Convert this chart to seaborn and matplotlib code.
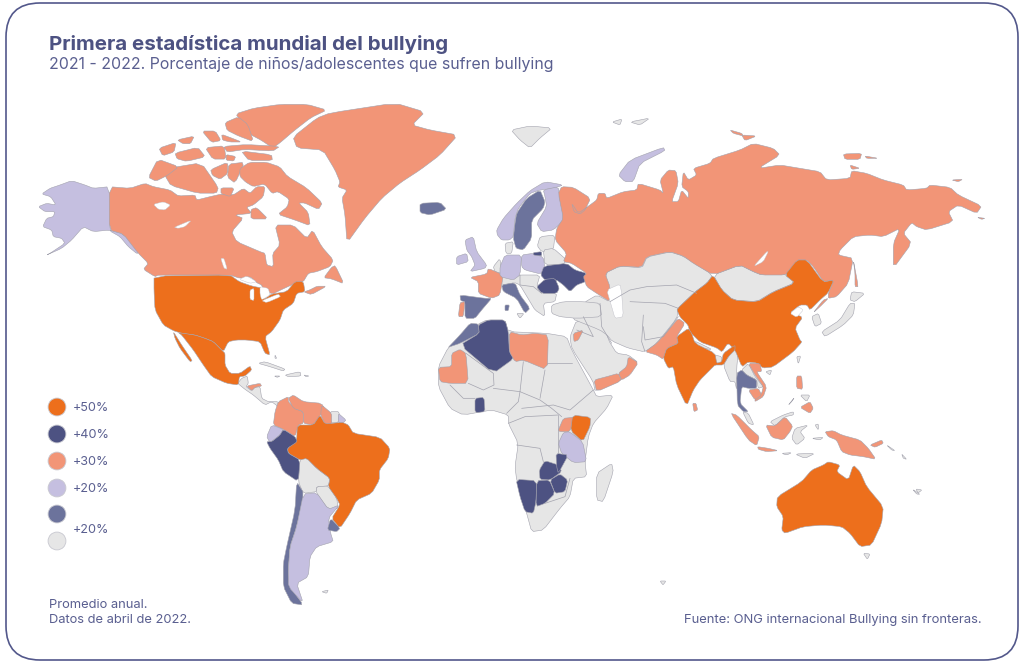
"""
World map of bullying rates, outlines traced from the picture.
Usage: python plot.py
"""
import matplotlib
matplotlib.use("Agg")
import matplotlib.pyplot as plt
import matplotlib.patches as mpatches
import pandas as pd
import seaborn as sns

# crop frames the outlines were read in: left, top, scale
PX = (0, 0, 1)
C1 = (30, 90, 3)
C2 = (140, 270, 3)
C3 = (420, 170, 3)
C4 = (430, 320, 3)
C5 = (550, 130, 3)
C6 = (620, 300, 3)

COLORS = {
    "orange": "#ed6f1c", "navy": "#4d5282", "salmon": "#f29577",
    "lilac": "#c5bfe0", "slate": "#6c739c", "gray": "#e6e6e6",
}

LEGEND_LABELS = ["+50%", "+40%", "+30%", "+20%", "", ""]
LEGEND_KEYS = ["orange", "navy", "salmon", "lilac", "slate", "gray"]

ALASKA = [(238,290),(190,295),(165,285),(125,272),(90,285),(60,295),(35,312),(62,320),(78,345),(50,340),(25,350),(45,365),(75,365),(70,380),(50,385),(38,410),(65,420),(70,440),(95,445),(105,460),(60,490),(50,495),(95,475),(125,450),(160,410),(190,425),(238,420),(280,432),(325,480),(322,492),(295,470),(270,440),(238,422)]
CANADA = [(238,290),(300,295),(345,280),(370,290),(420,300),(445,318),(495,315),(500,330),(540,320),(575,312),(610,315),(640,295),(660,310),(680,290),(705,290),(700,320),(670,345),(650,352),(665,370),(615,375),(640,385),(605,425),(620,455),(690,485),(705,490),(710,525),(730,530),(728,490),(750,465),(735,405),(790,405),(830,445),(848,420),(875,470),(910,510),(900,530),(860,545),(835,550),(820,575),(800,578),(752,600),(728,612),(700,600),(695,585),(680,578),(660,560),(630,565),(600,555),(385,555),(375,560),(340,538),(355,520),(325,490),(280,432),(238,420)]
CANADA_ISLANDS = [
    [(632,75),(680,60),(750,50),(820,50),(872,65),(830,85),(785,120),(750,150),(730,165),(700,145),(672,130),(650,100)],
    [(590,100),(625,85),(650,105),(665,150),(625,135),(595,120)],
    [(520,125),(555,125),(570,150),(545,155)],
    [(578,135),(605,145),(630,155),(600,155),(580,150)],
    [(590,170),(650,165),(738,170),(720,182),(645,178),(600,185)],
    [(640,185),(720,195),(722,210),(660,210)],
    [(390,175),(435,160),(430,185),(400,195)],
    [(445,150),(490,140),(480,160),(460,160)],
    [(440,190),(500,175),(520,200),(470,212),(445,205)],
    [(530,175),(580,170),(585,205),(550,205)],
    [(590,195),(615,200),(610,212),(590,210)],
    [(420,240),(510,225),(555,290),(550,305),(500,305),(430,285),(415,260)],
    [(360,260),(385,212),(440,232),(410,255),(380,270)],
    [(545,240),(590,220),(590,250),(570,265),(550,255)],
    [(598,225),(640,220),(615,275),(595,260)],
    [(645,245),(670,228),(715,228),(750,240),(770,265),(820,295),(862,335),(852,352),(815,335),(800,335),(825,360),(830,395),(790,380),(745,365),(770,345),(775,325),(745,305),(730,310),(710,285),(680,292),(660,280),(645,265)],
    [(575,295),(610,295),(600,318),(575,310)],
    [(680,355),(710,385),(665,385),(665,360)],
    [(825,605),(845,612),(885,590),(860,590),(840,600)],
    [(885,562),(905,535),(915,530),(938,578),(905,565)],
]
GREENLAND = [(293,137),(317,118),(330,113),(395,103),(425,112),(412,125),(430,130),(458,135),(440,155),(420,170),(400,183),(382,198),(365,218),(347,243),(345,215),(342,198),(347,190),(338,187),(340,182),(335,170),(323,150),(297,148)]
ICELAND = [(0,100),(60,97),(80,118),(30,135),(0,128)]

USA = [(42,18),(270,15),(298,35),(335,48),(370,55),(372,88),(395,72),(440,65),(465,35),(490,35),(495,65),(470,70),(460,100),(430,120),(420,150),(395,185),(375,200),(390,255),(375,250),(360,215),(320,210),(290,210),(265,215),(250,245),(220,215),(195,205),(165,195),(125,190),(100,182),(70,165),(45,120),(42,60)]
MEXICO = [(115,188),(165,195),(195,205),(220,215),(250,245),(255,250),(255,285),(270,310),(300,310),(330,288),(335,300),(315,318),(298,320),(295,345),(260,340),(215,320),(190,285),(160,240),(125,195)]
BAJA = [(100,185),(125,225),(157,272),(150,275),(120,235),(105,205)]
CARIBBEAN = [
    [(355,280),(375,275),(435,297),(430,303),(390,290)],
    [(435,315),(480,305),(483,318),(445,320)],
    [(403,318),(420,318),(412,322)],
    [(492,315),(507,318),(498,320)],
    [(405,255),(410,265),(405,265)],
]
CENTRAL_AMERICA = [(293,340),(305,325),(322,318),(325,340),(318,350),(335,362),(345,352),(360,350),(365,385),(385,395),(415,395),(415,410),(395,395),(375,405),(340,375),(315,358)]
NICARAGUA = [(320,348),(360,340),(365,348),(345,352),(335,362)]
COLOMBIA = [(445,380),(415,395),(405,425),(400,465),(430,478),(465,500),(475,465),(490,460),(490,425),(465,415),(445,395)]
VENEZUELA = [(445,385),(460,375),(490,395),(545,400),(560,430),(545,430),(520,465),(490,460),(490,425),(460,415)]
GUYANA = [(545,405),(575,430),(575,462),(555,462),(542,435)]
SURINAME = [(570,425),(598,425),(595,458),(572,458)]
FR_GUIANA = [(595,430),(618,450),(610,458),(595,458)]
BRAZIL = [(472,465),(520,465),(540,435),(555,462),(595,458),(610,458),(625,465),(640,490),(720,502),(750,535),(745,565),(718,600),(718,630),(695,670),(650,690),(630,730),(600,775),(575,745),(600,705),(590,685),(565,650),(570,625),(530,595),(500,565),(480,570),(445,550),(442,535),(470,510)]
ECUADOR = [(395,465),(430,478),(420,495),(390,518),(380,500)]
PERU = [(430,478),(465,500),(472,515),(442,535),(445,550),(480,570),(475,635),(430,605),(415,570),(390,535),(380,515),(395,515),(420,495)]
BOLIVIA = [(480,568),(500,562),(530,595),(570,625),(565,648),(530,650),(530,665),(490,670),(475,635)]
PARAGUAY = [(530,650),(565,648),(590,685),(595,715),(565,718),(530,670)]
CHILE = [(470,635),(492,670),(470,770),(450,830),(445,900),(450,950),(490,1005),(455,1000),(430,950),(430,880),(440,830),(465,720)]
ARGENTINA = [(490,672),(530,668),(565,718),(598,705),(565,745),(572,790),(580,815),(530,830),(510,860),(505,920),(470,940),(490,1000),(445,950),(445,900),(450,830),(470,770)]
URUGUAY = [(572,745),(600,775),(590,785),(562,780)]
FALKLAND = [(545,965),(565,960),(560,970)]

NORWAY = [(230,180),(250,145),(290,100),(330,62),(375,35),(430,45),(400,55),(360,60),(330,70),(295,115),(285,145),(280,200),(268,210),(245,210),(232,195)]
SWEDEN = [(290,130),(320,85),(360,60),(375,95),(370,115),(335,150),(335,205),(310,240),(288,235),(280,205),(285,160)]
FINLAND = [(370,60),(415,50),(420,90),(432,150),(400,180),(365,185),(350,160),(380,110),(375,80)]
UK = [(135,210),(160,200),(170,245),(200,285),(195,295),(150,305),(165,285),(155,260),(140,240)]
IRELAND = [(110,260),(140,250),(145,275),(110,285)]
FRANCE = [(205,295),(250,315),(240,375),(215,385),(175,370),(175,335),(150,322),(200,312)]
SPAIN = [(120,375),(195,385),(215,385),(185,420),(165,445),(135,445),(135,395),(122,392)]
PORTUGAL = [(120,398),(135,395),(130,440),(115,440)]
ITALY = [(245,345),(285,338),(300,375),(330,415),(315,430),(290,385),(250,365)]
SARDINIA = [(255,405),(268,405),(265,422),(255,422)]
SICILY = [(290,430),(312,430),(300,445)]
GERMANY = [(255,255),(305,255),(300,315),(280,330),(240,320),(240,290)]
POLAND = [(305,255),(340,250),(370,262),(375,295),(362,312),(315,300),(305,290)]
DENMARK = [(255,220),(280,215),(275,250),(258,250)]
KALININGRAD = [(340,248),(365,245),(365,258),(340,255)]
BALTICS = [(360,200),(405,195),(400,240),(365,245),(352,228)]
BELARUS = [(370,240),(400,235),(440,270),(430,283),(375,285)]
BENELUX = [(220,290),(240,265),(245,310),(225,305)]
UKRAINE = [(372,288),(440,280),(465,300),(500,310),(497,335),(470,345),(450,365),(430,345),(410,330),(375,330),(362,315)]
ROMANIA = [(350,350),(375,328),(405,325),(418,355),(410,370),(365,370)]
BALKANS = [(240,320),(300,315),(360,315),(350,350),(365,370),(410,370),(405,395),(370,400),(375,440),(345,420),(330,395),(300,345),(285,338),(245,345)]
TURKEY = [(395,405),(430,395),(490,395),(540,400),(545,440),(470,445),(420,440),(395,430)]

RUSSIA = [(40,265),(25,190),(35,170),(70,172),(122,205),(105,240),(90,252),(72,245),(65,220),(85,250),(120,225),(140,210),(145,190),(165,190),(170,205),(220,185),(260,180),(265,160),(330,180),(340,190),(330,150),(355,120),(378,122),(385,160),(365,215),(385,215),(395,180),(415,205),(415,185),(395,170),(400,125),(415,150),(440,135),(430,115),(480,100),(490,85),(570,60),(610,40),(670,55),(690,75),(625,115),(690,105),(750,115),(810,125),(830,150),(900,145),(905,122),(950,130),(1000,150),(1060,165),(1070,180),(1130,175),(1140,165),(1200,172),(1225,195),(1295,228),(1280,250),(1225,225),(1195,245),(1210,275),(1130,300),(1100,290),(1085,278),(1060,310),(1085,340),(1030,415),(1030,340),(1050,295),(1000,320),(960,315),(910,320),(870,360),(865,375),(910,385),(895,460),(860,500),(835,505),(835,490),(852,450),(820,455),(790,410),(770,390),(740,390),(735,420),(705,435),(635,435),(610,425),(570,405),(490,435),(430,400),(400,378),(360,365),(290,380),(275,412),(210,408),(165,430),(180,470),(180,515),(140,490),(110,470),(100,440),(110,430),(65,400),(40,395),(50,370),(15,330),(20,295)]
NOVAYA = [(205,135),(240,90),(340,52),(345,62),(270,100),(250,155),(225,155)]
SAKHALIN = [(910,390),(925,470),(915,470),(915,430)]
RUSSIA_ISLANDS = [
    [(540,0),(575,10),(580,18),(550,10)],
    [(575,15),(620,18),(585,32)],
    [(880,72),(935,70),(930,88),(885,88)],
    [(945,78),(985,85),(950,85)],
    [(900,105),(930,115),(905,118)],
    [(1205,150),(1238,148),(1225,155)],
    [(1282,262),(1305,265),(1295,268)],
]
SVALBARD = [(511,130),(530,126),(552,128),(540,138),(530,148),(520,140)]
ARCTIC_GRAY = [
    [(612,122),(622,119),(620,125)],
    [(630,122),(650,118),(640,125)],
    [(660,581),(666,581),(663,585)],
    [(916,489),(922,490),(918,493)],
]
MONGOLIA = [(490,435),(570,405),(610,425),(635,435),(700,430),(735,458),(670,485),(620,515),(550,510),(515,480)]
CHINA = [(713,275),(722,290),(733,300),(757,302),(773,292),(795,283),(785,275),(797,260),(807,260),(823,282),(834,280),(828,293),(820,300),(810,310),(807,305),(800,305),(790,313),(803,317),(795,328),(800,340),(802,342),(793,352),(773,367),(763,368),(757,363),(748,362),(742,367),(735,350),(728,343),(722,352),(717,348),(700,342),(690,332),(688,325),(680,317),(677,310),(678,308),(695,292),(707,283)]
N_KOREA = [(790,548),(820,510),(835,505),(810,530)]
S_KOREA = [(785,560),(805,550),(815,580),(795,590)]
HONSHU = [(815,605),(870,570),(900,520),(915,520),(910,555),(880,585),(825,620)]
HOKKAIDO = [(905,485),(945,490),(915,515),(900,510)]

CENTRAL_ASIA = [(605,273),(620,266),(642,268),(647,257),(670,252),(683,256),(713,275),(707,283),(695,292),(678,308),(677,318),(657,343),(645,352),(628,348),(612,341),(607,335),(600,330),(570,318),(585,302),(597,295),(610,302)]
ARABIA = [(420,50),(440,0),(520,0),(535,60),(560,100),(595,105),(625,128),(575,180),(495,215),(490,185),(425,85)]
JORDAN = [(430,40),(460,30),(445,60),(432,65)]
OMAN = [(595,110),(625,128),(600,165),(575,180),(565,160),(590,140)]
YEMEN = [(492,180),(530,170),(565,160),(575,182),(500,215)]

AFRICA = [(25,140),(55,82),(85,60),(145,12),(170,0),(225,0),(235,35),(350,40),(410,50),(425,90),(490,210),(500,230),(550,225),(530,265),(490,310),(475,350),(465,425),(470,470),(430,475),(420,530),(390,565),(340,630),(305,635),(290,580),(260,480),(255,440),(265,370),(235,310),(235,285),(185,270),(100,285),(60,265),(25,200)]
MADAGASCAR = [(500,460),(545,430),(550,455),(520,545),(500,540)]
MOROCCO = [(55,82),(90,45),(120,10),(145,12),(148,40),(90,70),(60,80)]
ALGERIA = [(145,15),(175,0),(225,0),(235,35),(238,95),(252,115),(190,160),(90,75),(148,40)]
LIBYA = [(238,35),(275,45),(315,40),(355,45),(352,150),(280,120),(255,125),(238,95)]
MAURITANIA = [(65,100),(90,88),(108,100),(115,190),(60,190),(30,185),(25,142),(65,140)]
GHANA = [(135,235),(162,232),(165,275),(135,278)]
UGANDA = [(400,295),(430,292),(420,335),(390,335),(385,330)]
KENYA = [(428,285),(482,292),(480,320),(458,365),(422,332)]
TANZANIA = [(400,338),(418,335),(458,365),(470,425),(430,428),(395,400),(385,370)]
ZAMBIA = [(328,450),(345,422),(385,435),(395,455),(360,480),(330,478)]
MALAWI = [(378,400),(415,405),(385,460),(380,440)]
ZIMBABWE = [(360,480),(390,462),(413,480),(405,515),(375,520)]
NAMIBIA = [(258,478),(320,482),(318,545),(310,580),(285,575),(270,530)]
BOTSWANA = [(320,482),(358,480),(375,520),(345,550),(318,560)]

INDIA = [(140,145),(175,130),(170,110),(205,85),(215,100),(225,130),(285,160),(290,190),(305,185),(310,160),(345,135),(345,150),(325,170),(310,195),(285,195),(275,205),(240,240),(220,270),(200,318),(170,255),(160,200),(145,205),(130,175)]
NEPAL = [(222,122),(280,150),(225,140)]
BANGLADESH = [(285,165),(305,170),(305,195),(290,190)]
PAKISTAN = [(75,155),(110,130),(145,90),(175,55),(195,70),(170,110),(175,130),(140,145),(130,178),(110,165)]
MYANMAR = [(310,195),(325,170),(345,140),(355,150),(350,205),(350,270),(345,245),(330,245)]
THAILAND = [(350,220),(365,210),(380,225),(410,240),(410,265),(385,265),(365,260),(360,310),(385,335),(370,335),(352,315)]
LAOS = [(365,210),(385,190),(405,230),(430,260),(415,265),(410,240),(380,225)]
VIETNAM = [(385,190),(420,190),(425,215),(410,215),(440,260),(430,290),(405,305),(405,295),(425,280),(430,260),(405,225)]
CAMBODIA = [(385,270),(415,265),(425,285),(405,300)]
MALAYA = [(368,335),(385,340),(402,375),(385,370)]
SUMATRA = [(332,340),(350,345),(395,390),(418,410),(410,437),(385,420)]
JAVA = [(413,440),(445,445),(475,452),(440,455),(415,448)]
BORNEO = [(437,375),(465,378),(495,350),(518,378),(510,395),(490,420),(455,412)]
SABAH = [(450,365),(490,345),(520,335),(520,345),(495,350),(465,378)]
SULAWESI = [(525,385),(565,375),(540,395),(555,415),(530,435),(515,415)]
LUZON = [(530,228),(545,228),(548,268),(530,265)]
MINDANAO = [(540,322),(570,305),(580,325),(570,340)]
SEA_GRAY = [
    [(540,285),(570,285),(560,305)],
    [(505,315),(523,293),(515,305)],
    [(530,170),(542,168),(535,192)],
    [(437,215),(455,210),(450,225)],
    [(485,460),(515,458),(500,465)],
    [(525,462),(585,460),(555,475)],
    [(575,415),(610,412),(600,420)],
    [(585,375),(595,372),(595,390)],
    [(800,435),(825,452),(815,450)],
    [(845,462),(860,478),(850,475)],
    [(878,568),(900,583),(890,582)],
    [(730,760),(750,762),(742,778)],
]
SRI_LANKA = [(218,310),(228,310),(233,330),(222,335)]
NEW_GUINEA = [(615,395),(640,392),(665,405),(720,420),(745,445),(768,478),(730,470),(690,465),(665,455),(650,420),(625,410)]
NEW_BRITAIN = [(750,435),(785,420),(790,430),(765,442)]
AUSTRALIA = [(472,590),(545,545),(575,510),(610,495),(625,485),(660,495),(650,515),(685,540),(700,495),(720,515),(740,560),(790,620),(785,670),(755,735),(720,740),(690,700),(665,680),(610,675),(550,680),(495,700),(485,690),(490,650),(470,620)]

# painted in this order, gray land underneath
REGIONS = [
    ("gray", C4, AFRICA), ("gray", C4, MADAGASCAR), ("gray", C4, ARABIA), ("gray", PX, CENTRAL_ASIA),
    ("gray", C3, TURKEY), ("gray", C3, BALKANS), ("gray", C3, SICILY), ("gray", C3, DENMARK),
    ("gray", C3, BALTICS), ("gray", C3, BELARUS), ("gray", C3, BENELUX), ("gray", C5, MONGOLIA),
    ("gray", C5, S_KOREA), ("gray", C5, HONSHU), ("gray", C5, HOKKAIDO), ("gray", PX, SVALBARD),
    ("gray", C2, CENTRAL_AMERICA), ("gray", C2, SURINAME), ("gray", C2, BOLIVIA), ("gray", C2, PARAGUAY),
    ("gray", C2, FALKLAND), ("gray", C6, MYANMAR), ("gray", C6, LAOS), ("gray", C6, MALAYA),
    ("gray", C6, SABAH), ("gray", C6, SULAWESI), ("gray", C6, NEPAL), ("gray", C6, BANGLADESH),
    ("lilac", C1, ALASKA), ("salmon", C1, CANADA), ("salmon", PX, GREENLAND), ("slate", C3, ICELAND),
    ("orange", C2, USA), ("orange", C2, MEXICO), ("orange", C2, BAJA), ("salmon", C2, NICARAGUA),
    ("salmon", C2, COLOMBIA), ("salmon", C2, VENEZUELA), ("salmon", C2, GUYANA), ("lilac", C2, FR_GUIANA),
    ("orange", C2, BRAZIL), ("lilac", C2, ECUADOR), ("navy", C2, PERU), ("slate", C2, CHILE),
    ("lilac", C2, ARGENTINA), ("slate", C2, URUGUAY),
    ("lilac", C3, NORWAY), ("slate", C3, SWEDEN), ("lilac", C3, FINLAND), ("lilac", C3, UK),
    ("lilac", C3, IRELAND), ("salmon", C3, FRANCE), ("slate", C3, SPAIN), ("salmon", C3, PORTUGAL),
    ("slate", C3, ITALY), ("slate", C3, SARDINIA), ("lilac", C3, GERMANY), ("lilac", C3, POLAND),
    ("navy", C3, KALININGRAD), ("navy", C3, UKRAINE), ("navy", C3, ROMANIA),
    ("salmon", C5, RUSSIA), ("lilac", C5, NOVAYA), ("salmon", C5, SAKHALIN), ("orange", PX, CHINA),
    ("salmon", C5, N_KOREA), ("salmon", C4, JORDAN), ("salmon", C4, OMAN), ("salmon", C4, YEMEN),
    ("slate", C4, MOROCCO), ("navy", C4, ALGERIA), ("salmon", C4, LIBYA), ("salmon", C4, MAURITANIA),
    ("navy", C4, GHANA), ("salmon", C4, UGANDA), ("orange", C4, KENYA), ("lilac", C4, TANZANIA),
    ("navy", C4, ZAMBIA), ("navy", C4, MALAWI), ("navy", C4, ZIMBABWE), ("navy", C4, NAMIBIA),
    ("navy", C4, BOTSWANA),
    ("salmon", C6, PAKISTAN), ("orange", C6, INDIA), ("slate", C6, THAILAND), ("salmon", C6, VIETNAM),
    ("salmon", C6, CAMBODIA), ("salmon", C6, SUMATRA), ("salmon", C6, JAVA), ("salmon", C6, BORNEO),
    ("salmon", C6, LUZON), ("salmon", C6, MINDANAO), ("salmon", C6, SRI_LANKA), ("salmon", C6, NEW_GUINEA),
    ("salmon", C6, NEW_BRITAIN), ("orange", C6, AUSTRALIA),
]
REGIONS += [("gray", C2, p) for p in CARIBBEAN]
REGIONS += [("salmon", C5, p) for p in RUSSIA_ISLANDS]
REGIONS += [("gray", PX, p) for p in ARCTIC_GRAY]
REGIONS += [("gray", C6, p) for p in SEA_GRAY]

# water cut out of the land
LAKES = [
    (C1, [(628,568),(650,558),(680,575),(660,580)]),
    (C1, [(660,600),(672,595),(672,632),(660,628)]),
    (C1, [(690,590),(715,595),(720,615),(695,630),(690,612)]),
    (C1, [(695,632),(745,612),(752,620),(710,638)]),
    (C1, [(370,343),(400,335),(422,345),(405,360),(385,358)]),
    (C1, [(432,412),(485,390),(465,410),(445,415)]),
    (C1, [(572,505),(582,505),(592,538),(582,535)]),
    (C5, [(170,480),(210,462),(215,490),(220,560),(195,565),(185,530)]),
    (C5, [(610,410),(650,365),(655,365),(640,395)]),
    (C5, [(720,550),(745,530),(760,540),(740,562)]),
]

# inner borders of the gray land
BORDERS = [
    (C4, [(108,100),(190,160),(192,195),(160,210),(115,190)]),
    (C4, [(280,125),(270,215),(330,240),(365,265),(395,290)]),
    (C4, [(345,150),(330,235)]),
    (C4, [(352,130),(425,130)]),
    (C4, [(190,205),(270,215),(265,245),(230,280)]),
    (C4, [(275,265),(370,255),(420,270),(490,210)]),
    (C4, [(235,310),(285,290),(385,285)]),
    (C4, [(260,375),(330,385),(340,425)]),
    (C4, [(385,285),(385,400)]),
    (C4, [(60,195),(100,235),(135,235)]),
    (C4, [(345,550),(405,530),(420,475)]),
    (C5, [(180,515),(240,480),(290,470),(380,465),(440,490)]),
    (C5, [(240,515),(345,520),(385,535)]),
    (C5, [(280,590),(285,630),(340,620),(385,560)]),
    (C6, [(70,45),(65,125),(75,155)]),
    (C3, [(540,400),(545,470),(575,520)]),
    (C3, [(490,440),(520,500),(470,480)]),
    (C3, [(300,315),(300,345),(340,350),(365,370)]),
]


def to_px(frame, pts):
    left, top, k = frame
    return [(left + x / k, top + y / k) for x, y in pts]


def soften(pts, q=0.15):
    # one pass of corner cutting so the traced outlines lose their hard angles
    out = []
    for (x0, y0), (x1, y1) in zip(pts, pts[1:] + pts[:1]):
        out.append((x0 + q * (x1 - x0), y0 + q * (y1 - y0)))
        out.append((x1 - q * (x1 - x0), y1 - q * (y1 - y0)))
    return out


def grow(pts, factor=1.14):
    cx = sum(p[0] for p in pts) / len(pts)
    cy = sum(p[1] for p in pts) / len(pts)
    return [(cx + factor * (x - cx), cy + factor * (y - cy)) for x, y in pts]


REGIONS += [("salmon", C1, grow(p)) for p in CANADA_ISLANDS]

sns.set_theme(style="white")
plt.rcParams["font.family"] = ["Inter", "DejaVu Sans"]

fig, ax = plt.subplots(figsize=(10.24, 6.64), dpi=100)
fig.subplots_adjust(0, 0, 1, 1)
ax.set_xlim(0, 1024)
ax.set_ylim(664, 0)
ax.axis("off")

ax.add_patch(mpatches.FancyBboxPatch((6, 3), 1012, 657,
             boxstyle="round,pad=0,rounding_size=34",
             facecolor="white", edgecolor="#53588b", linewidth=1.2, zorder=1))

for key, frame, pts in REGIONS:
    xs, ys = zip(*soften(to_px(frame, pts)))
    ax.fill(xs, ys, facecolor=COLORS[key], edgecolor="#a3a3ae", linewidth=0.4, zorder=2)
for frame, pts in LAKES:
    xs, ys = zip(*soften(to_px(frame, pts)))
    ax.fill(xs, ys, facecolor="white", edgecolor="#c0c0c8", linewidth=0.3, zorder=3)
for frame, pts in BORDERS:
    xs, ys = zip(*to_px(frame, pts))
    ax.plot(xs, ys, color="#a3a3ae", linewidth=0.5, zorder=3)

legend_df = pd.DataFrame({"key": LEGEND_KEYS, "x": 57.0,
                          "y": [407, 434, 461, 488, 514, 541]})
sns.scatterplot(data=legend_df, x="x", y="y", hue="key", palette=COLORS, s=165,
                edgecolor="#c8c8d0", linewidth=0.6, legend=False, ax=ax, zorder=4)
ax.set_xlabel("")
ax.set_ylabel("")

text_color = "#5a5f90"
for label, y in zip(LEGEND_LABELS[:4], legend_df["y"]):
    ax.text(73, y + 1, label, fontsize=9.1, color=text_color, va="center")
ax.text(73, 530, "+20%", fontsize=9.1, color=text_color, va="center")

ax.text(49, 44, "Primera estadística mundial del bullying", fontsize=14.8,
        fontweight="bold", color="#4d5282", va="center")
ax.text(49, 65, "2021 - 2022. Porcentaje de niños/adolescentes que sufren bullying",
        fontsize=11.45, color=text_color, va="center")
ax.text(49, 605, "Promedio anual.", fontsize=9.3, color=text_color, va="center")
ax.text(49, 620, "Datos de abril de 2022.", fontsize=9.3, color=text_color, va="center")
ax.text(982, 620, "Fuente: ONG internacional Bullying sin fronteras.", fontsize=9.35,
        color=text_color, va="center", ha="right")

plt.savefig("out.png", dpi=100)
plt.close()
